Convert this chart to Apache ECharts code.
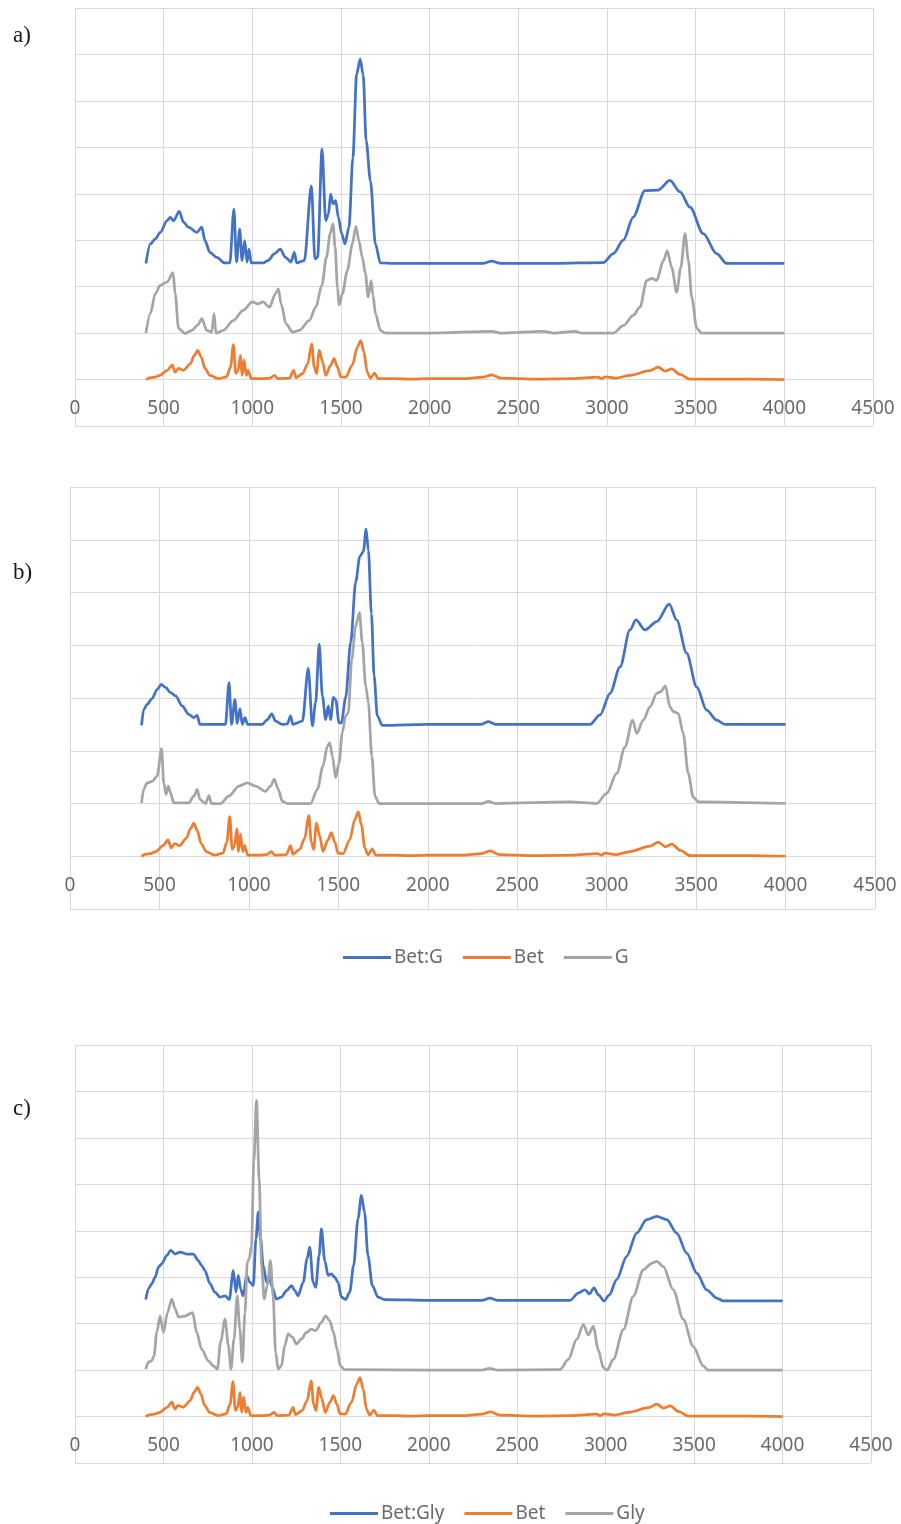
<!DOCTYPE html>
<html>
<head>
<meta charset="utf-8">
<script src="https://cdn.jsdelivr.net/npm/echarts@6/dist/echarts.min.js"></script>
<style>
html,body{margin:0;padding:0;background:#fff;}
#chart{width:901px;height:1524px;}
</style>
</head>
<body>
<div id="chart"></div>
<script>
// ---- data (x = wavenumber cm-1, y = offset intensity in grid units) ----
const xTicks = [0, 500, 1000, 1500, 2000, 2500, 3000, 3500, 4000, 4500];
const panelLabels = ['a)', 'b)', 'c)'];
const legendB = ['Bet:G', 'Bet', 'G'];
const legendC = ['Bet:Gly', 'Bet', 'Gly'];

// Bet (orange) - same spectrum in all three panels
const bet = [[400,0],[425,0.04],[450,0.05],[480,0.09],[520,0.2],[548,0.31],[565,0.16],[584,0.24],[612,0.2],[650,0.34],[673,0.52],[692,0.63],[711,0.49],[733,0.24],[761,0.09],[808,0.02],[855,0.06],[877,0.27],[893,0.75],[907,0.13],[920,0.2],[933,0.52],[942,0.09],[953,0.42],[966,0.09],[976,0.2],[994,0.02],[1060,0.02],[1100,0.03],[1125,0.09],[1144,0.02],[1209,0.03],[1233,0.2],[1246,0.04],[1284,0.13],[1312,0.34],[1335,0.77],[1349,0.27],[1362,0.13],[1378,0.63],[1396,0.38],[1414,0.09],[1442,0.31],[1461,0.45],[1480,0.27],[1498,0.06],[1526,0.05],[1564,0.31],[1592,0.70],[1612,0.84],[1629,0.59],[1648,0.16],[1666,0.03],[1690,0.14],[1709,0.02],[1800,0.02],[1900,0.01],[2000,0.02],[2200,0.02],[2300,0.05],[2350,0.1],[2400,0.03],[2600,0.01],[2800,0.02],[2950,0.05],[2970,0.02],[2990,0.06],[3050,0.03],[3130,0.09],[3242,0.19],[3289,0.27],[3327,0.18],[3365,0.23],[3412,0.11],[3468,0.01],[3600,0.01],[3800,0.01],[4000,0]];

// panel a
const betG_a = [[400,2.5],[425,2.92],[453,3.03],[481,3.17],[519,3.42],[537,3.49],[556,3.42],[588,3.62],[612,3.39],[640,3.28],[687,3.17],[715,3.28],[733,2.99],[761,2.74],[799,2.63],[845,2.51],[873,2.51],[896,3.67],[911,2.53],[929,3.24],[942,2.56],[957,2.99],[970,2.53],[981,2.81],[994,2.51],[1060,2.51],[1088,2.56],[1125,2.71],[1157,2.81],[1187,2.63],[1218,2.53],[1237,2.74],[1250,2.51],[1293,2.56],[1333,4.17],[1353,2.6],[1368,2.63],[1393,4.96],[1414,3.42],[1429,3.56],[1442,3.99],[1455,3.78],[1470,3.85],[1485,3.49],[1504,3.14],[1522,2.92],[1545,3.28],[1567,4.78],[1588,6.57],[1608,6.9],[1625,6.57],[1642,5.14],[1666,4.28],[1694,2.92],[1722,2.51],[1800,2.5],[2000,2.5],[2300,2.5],[2350,2.55],[2400,2.5],[2700,2.5],[2979,2.52],[3036,2.71],[3092,3.0],[3148,3.5],[3214,4.07],[3289,4.08],[3355,4.29],[3412,4.04],[3468,3.71],[3543,3.14],[3618,2.71],[3675,2.5],[4000,2.5]];
const g_a = [[400,1.0],[425,1.42],[453,1.85],[481,2.03],[519,2.10],[553,2.3],[565,1.85],[584,1.10],[621,0.99],[659,1.06],[692,1.17],[715,1.31],[743,1.06],[771,1.02],[784,1.42],[795,1.0],[836,1.06],[892,1.27],[948,1.49],[1000,1.67],[1032,1.63],[1060,1.67],[1097,1.56],[1131,1.85],[1147,1.95],[1162,1.63],[1190,1.2],[1228,1.02],[1265,1.06],[1321,1.27],[1358,1.56],[1392,2.03],[1418,2.63],[1439,3.14],[1455,3.35],[1467,2.85],[1480,1.99],[1489,1.6],[1508,1.85],[1536,2.35],[1564,2.92],[1584,3.3],[1601,2.99],[1620,2.63],[1638,2.28],[1653,1.78],[1670,2.13],[1681,1.81],[1694,1.42],[1722,1.06],[1750,1.0],[2000,1.0],[2350,1.04],[2400,1.0],[2640,1.04],[2700,1.0],[2820,1.04],[2860,1.0],[3036,1.0],[3092,1.16],[3148,1.38],[3186,1.56],[3224,2.13],[3252,2.18],[3280,2.13],[3318,2.56],[3340,2.77],[3365,2.41],[3393,1.88],[3416,2.41],[3440,3.14],[3459,2.56],[3478,1.77],[3506,1.1],[3534,1.0],[4000,1.0]];

// panel b
const betG_b = [[400,2.48],[412,2.78],[431,2.88],[459,2.99],[487,3.16],[510,3.26],[534,3.2],[562,3.1],[590,3.04],[627,2.85],[664,2.69],[692,2.63],[711,2.67],[726,2.5],[869,2.5],[889,3.29],[903,2.5],[922,2.97],[935,2.52],[950,2.8],[963,2.5],[978,2.63],[993,2.5],[1075,2.5],[1103,2.59],[1128,2.70],[1149,2.56],[1187,2.5],[1215,2.51],[1233,2.66],[1246,2.5],[1299,2.56],[1332,3.56],[1355,2.47],[1373,2.91],[1393,4.02],[1411,3.04],[1429,2.59],[1444,2.85],[1457,2.59],[1472,3.01],[1485,2.97],[1504,2.53],[1517,2.53],[1541,3.01],[1569,4.05],[1597,5.2],[1620,5.68],[1640,5.78],[1655,6.2],[1668,5.8],[1685,4.6],[1700,3.42],[1718,2.66],[1746,2.48],[2000,2.5],[2300,2.5],[2338,2.55],[2380,2.5],[2907,2.5],[2963,2.68],[3019,3.09],[3075,3.59],[3130,4.29],[3164,4.48],[3214,4.29],[3280,4.45],[3350,4.78],[3391,4.48],[3447,3.85],[3503,3.21],[3559,2.77],[3615,2.58],[3661,2.5],[4000,2.5]];
const g_b = [[400,1.01],[412,1.27],[431,1.39],[459,1.42],[487,1.52],[512,2.04],[524,1.39],[537,1.17],[549,1.33],[562,1.2],[580,1.01],[664,1.01],[692,1.14],[711,1.27],[726,1.08],[758,1.0],[776,1.15],[791,1.0],[841,1.0],[888,1.14],[944,1.33],[991,1.39],[1037,1.33],[1093,1.23],[1121,1.33],[1142,1.46],[1164,1.27],[1187,1.04],[1215,1.0],[1345,1.0],[1383,1.27],[1414,1.71],[1439,2.09],[1452,2.15],[1467,1.9],[1485,1.49],[1504,1.77],[1522,2.34],[1541,2.66],[1556,2.72],[1575,3.73],[1597,4.37],[1618,4.62],[1634,4.05],[1653,3.23],[1668,2.91],[1687,1.9],[1705,1.14],[1728,1.0],[2000,1.0],[2300,1.0],[2338,1.04],[2380,1.0],[2795,1.03],[2944,1.0],[3000,1.19],[3056,1.57],[3102,2.07],[3145,2.58],[3168,2.33],[3205,2.58],[3242,2.83],[3280,3.09],[3302,3.12],[3328,3.23],[3354,2.83],[3373,2.74],[3400,2.71],[3428,2.33],[3456,1.57],[3484,1.12],[3512,1.03],[4000,1.0]];

// panel c
const betGly_c = [[400,2.52],[415,2.75],[434,2.86],[453,3.0],[472,3.22],[491,3.29],[519,3.47],[541,3.58],[566,3.5],[594,3.54],[632,3.5],[669,3.5],[697,3.36],[716,3.25],[735,3.14],[763,2.86],[791,2.68],[820,2.57],[848,2.6],[872,2.52],[895,3.14],[910,2.68],[923,3.04],[936,2.75],[951,2.6],[970,3.04],[989,2.89],[1008,2.82],[1023,3.83],[1036,4.4],[1049,3.83],[1064,3.25],[1083,2.89],[1098,3.04],[1111,2.82],[1139,2.53],[1167,2.57],[1196,2.71],[1224,2.82],[1243,2.71],[1261,2.6],[1290,2.89],[1312,3.4],[1327,3.65],[1346,2.89],[1361,2.78],[1380,3.47],[1393,4.04],[1412,3.36],[1431,3.04],[1449,3.07],[1468,3.0],[1487,2.89],[1506,2.57],[1530,2.52],[1553,2.68],[1575,3.25],[1600,4.26],[1619,4.76],[1637,4.4],[1656,3.47],[1681,2.82],[1713,2.57],[1750,2.52],[2000,2.5],[2300,2.5],[2346,2.55],[2390,2.5],[2798,2.5],[2845,2.66],[2883,2.73],[2908,2.64],[2934,2.77],[2959,2.62],[2991,2.49],[3021,2.62],[3062,2.95],[3119,3.45],[3175,3.95],[3232,4.24],[3289,4.31],[3345,4.24],[3402,3.95],[3458,3.52],[3515,3.09],[3571,2.73],[3628,2.55],[3665,2.49],[4000,2.49]];
const gly_c = [[400,1.02],[415,1.17],[434,1.2],[447,1.31],[462,1.81],[481,2.16],[500,1.81],[523,2.24],[547,2.53],[566,2.32],[585,2.14],[622,2.16],[647,2.21],[665,2.24],[688,1.81],[716,1.45],[754,1.2],[782,1.09],[805,1.02],[823,1.6],[848,2.1],[867,1.53],[882,1.02],[899,1.67],[917,2.6],[932,1.88],[946,1.17],[961,2.24],[974,3.32],[985,3.4],[998,3.68],[1011,5.48],[1026,6.81],[1041,5.12],[1055,3.25],[1070,2.53],[1087,2.82],[1105,3.36],[1120,2.6],[1134,1.38],[1149,1.02],[1167,1.09],[1186,1.53],[1205,1.78],[1229,1.71],[1252,1.56],[1280,1.67],[1308,1.81],[1337,1.88],[1361,1.85],[1393,2.03],[1417,2.17],[1440,2.06],[1462,1.81],[1481,1.45],[1500,1.09],[1525,1.01],[2000,1.0],[2300,1.0],[2346,1.04],[2390,1.0],[2742,1.01],[2789,1.23],[2836,1.66],[2874,1.98],[2902,1.76],[2930,1.94],[2958,1.44],[2987,1.05],[3009,1.0],[3043,1.23],[3100,1.87],[3156,2.59],[3213,3.16],[3260,3.3],[3289,3.34],[3326,3.23],[3382,2.73],[3439,2.09],[3495,1.51],[3552,1.09],[3580,1.0],[4000,1.0]];

// ---- styling ----
const BLUE = '#4472C4', ORANGE = '#ED7D31', GRAY = '#A5A5A5';
const GRID_COLOR = '#d9d9d9';
const LABEL_COLOR = '#6b6b6b';
const FONT = 'Noto Sans';

const grids = [
  {left: 75, top: 8, width: 798, height: 418},
  {left: 70, top: 487, width: 805, height: 422},
  {left: 75, top: 1045, width: 796, height: 418}
];
const yMin = -1;
const yMax = [8, 7, 8];

function xAxisFor(i) {
  // the tick labels sit just under the y = 0 line, one grid unit above the plot bottom
  const unitPx = grids[i].height / (yMax[i] - yMin);
  return {
    type: 'value', gridIndex: i, min: xTicks[0], max: xTicks[xTicks.length - 1], interval: xTicks[1] - xTicks[0],
    position: 'bottom', offset: -unitPx,
    axisLine: {show: false, onZero: false},
    axisTick: {show: false},
    axisLabel: {show: true, color: LABEL_COLOR, fontSize: 19, fontFamily: FONT, margin: 20,
                showMinLabel: true, showMaxLabel: true, formatter: v => String(v)},
    splitLine: {show: true, lineStyle: {color: GRID_COLOR, width: 1}}
  };
}
function yAxisFor(i) {
  return {
    type: 'value', gridIndex: i, min: yMin, max: yMax[i], interval: 1,
    axisLine: {show: false}, axisTick: {show: false}, axisLabel: {show: false},
    splitLine: {show: true, lineStyle: {color: GRID_COLOR, width: 1}}
  };
}
function lineSeries(name, data, color, i, z) {
  return {
    name: name, type: 'line', xAxisIndex: i, yAxisIndex: i, data: data,
    showSymbol: false, symbol: 'none', smooth: 0.3, smoothMonotone: 'x',
    lineStyle: {color: color, width: 2.75}, itemStyle: {color: color},
    z: z, animation: false
  };
}

const option = {
  animation: false,
  backgroundColor: '#ffffff',
  grid: grids,
  xAxis: [xAxisFor(0), xAxisFor(1), xAxisFor(2)],
  yAxis: [yAxisFor(0), yAxisFor(1), yAxisFor(2)],
  legend: [
    {data: legendB, left: 338, top: 943, icon: 'rect', itemWidth: 48, itemHeight: 3, itemGap: 20,
     textStyle: {color: LABEL_COLOR, fontSize: 19, fontFamily: FONT, padding: [0, 0, 0, -2]}},
    {data: legendC, left: 325, top: 1499, icon: 'rect', itemWidth: 48, itemHeight: 3, itemGap: 20,
     textStyle: {color: LABEL_COLOR, fontSize: 19, fontFamily: FONT, padding: [0, 0, 0, -2]}}
  ],
  graphic: panelLabels.map((t, i) => ({
    type: 'text', left: 13, top: [24, 561, 1097][i],
    style: {text: t, font: '23px "Liberation Serif"', fill: '#1a1a1a'}
  })),
  series: [
    lineSeries('Bet:G', betG_a, BLUE, 0, 3),
    lineSeries('Bet', bet, ORANGE, 0, 2),
    lineSeries('G', g_a, GRAY, 0, 4),
    lineSeries('Bet:G', betG_b, BLUE, 1, 3),
    lineSeries('Bet', bet, ORANGE, 1, 2),
    lineSeries('G', g_b, GRAY, 1, 4),
    lineSeries('Bet:Gly', betGly_c, BLUE, 2, 3),
    lineSeries('Bet', bet, ORANGE, 2, 2),
    lineSeries('Gly', gly_c, GRAY, 2, 4)
  ]
};

const chart = echarts.init(document.getElementById('chart'), null, {renderer: 'canvas'});
chart.setOption(option);
</script>
</body>
</html>
